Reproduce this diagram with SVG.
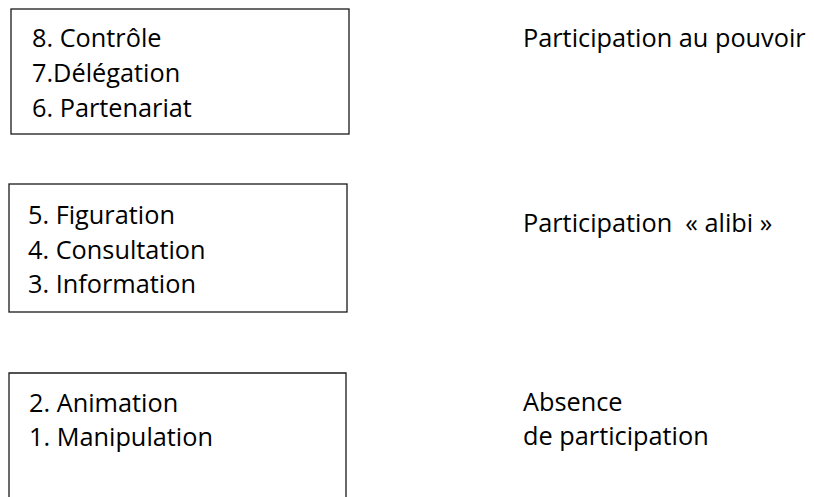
<svg xmlns="http://www.w3.org/2000/svg" width="814" height="497" viewBox="0 0 814 497">
<style>
.box{fill:#fff;stroke:#1a1a1a;stroke-width:1.3}
text{font-family:"Open Sans","Noto Sans",sans-serif;font-size:25.3px;fill:#000}
</style>
<rect width="814" height="497" fill="#fff"/>
<g id="box-pouvoir">
<rect class="box" x="11" y="9" width="338" height="125"/>
<text x="32" y="47">8. Contrôle</text>
<text x="32" y="82">7.Délégation</text>
<text x="32" y="117">6. Partenariat</text>
</g>
<g id="box-alibi">
<rect class="box" x="9" y="184" width="338" height="128"/>
<text x="28" y="224">5. Figuration</text>
<text x="28" y="259">4. Consultation</text>
<text x="28" y="293">3. Information</text>
</g>
<g id="box-absence">
<path class="box" d="M9,498 V373 H346 V498"/>
<text x="29" y="412">2. Animation</text>
<text x="29" y="446">1. Manipulation</text>
</g>
<g id="label-pouvoir"><text x="523" y="47">Participation au pouvoir</text></g>
<g id="label-alibi"><text x="523" y="232" xml:space="preserve">Participation  « alibi »</text></g>
<g id="label-absence"><text x="523" y="411">Absence</text><text x="523" y="445">de participation</text></g>
<g id="connectors"></g>
</svg>
